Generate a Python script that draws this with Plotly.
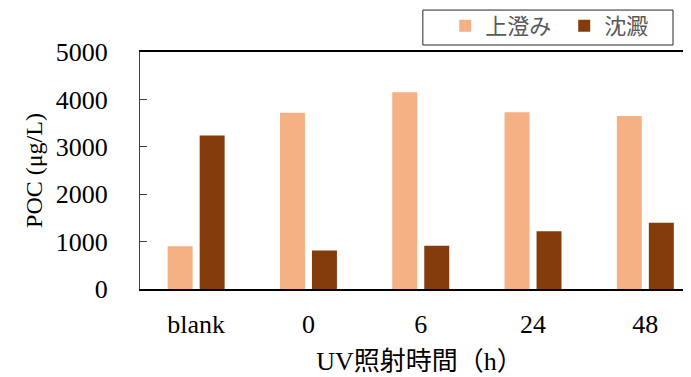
import plotly.graph_objects as go

categories = ["blank", "0", "6", "24", "48"]
supernatant = [900, 3720, 4150, 3730, 3650]
sediment = [3240, 810, 910, 1220, 1400]
series_names = ["上澄み", "沈澱"]
y_ticks = [0, 1000, 2000, 3000, 4000, 5000]

SERIF = "Liberation Serif, Noto Sans CJK JP, serif"
CJK = "Noto Sans CJK JP, sans-serif"

fig = go.Figure()
fig.add_trace(go.Bar(x=categories, y=supernatant, name=series_names[0],
                     marker=dict(color="#F4B183", line=dict(width=0))))
fig.add_trace(go.Bar(x=categories, y=sediment, name=series_names[1],
                     marker=dict(color="#843C0C", line=dict(width=0))))

fig.update_layout(
    width=691, height=377,
    margin=dict(l=132, r=0, t=44, b=96, autoexpand=False),
    paper_bgcolor="white", plot_bgcolor="white",
    barmode="group", bargap=0.43, bargroupgap=0.22,
    showlegend=True,
    legend=dict(orientation="h", x=0.546, y=1.198, xanchor="left", yanchor="top",
                bgcolor="rgba(0,0,0,0)", borderwidth=0,
                font=dict(family=CJK, size=22, color="#595959"),
                entrywidth=74, itemwidth=30),
    font=dict(family=SERIF, color="black"),
)
fig.add_shape(type="rect", xref="paper", yref="paper",
              x0=0.506, x1=0.9535, y0=1.0295, y1=1.177,
              line=dict(color="#262626", width=1), fillcolor="rgba(0,0,0,0)")

fig.update_xaxes(
    type="category", range=[-0.5, 4.478], automargin=False,
    showline=True, linecolor="black", linewidth=2, mirror=True,
    ticks="", showgrid=False,
    tickfont=dict(family=SERIF, size=26, color="black"),
    ticklabelstandoff=11,
    title=dict(text="UV照射時間（h）", font=dict(family=SERIF, size=26, color="black"), standoff=14),
)
fig.update_yaxes(
    range=[0, 5000], tickvals=y_ticks, automargin=False,
    showline=True, linecolor="#404040", linewidth=1, mirror=False,
    ticks="inside", ticklen=7, tickcolor="#404040",
    showgrid=False, zeroline=False,
    tickfont=dict(family=SERIF, size=26, color="black"),
    ticklabelstandoff=26,
    title=dict(text="POC (μg/L)", font=dict(family=SERIF, size=24, color="black"), standoff=6),
)

fig.write_html("out.html")
